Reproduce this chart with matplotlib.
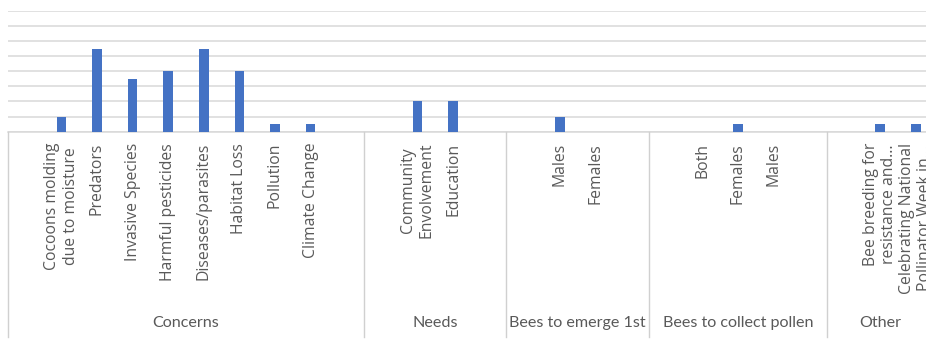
import matplotlib
matplotlib.use("Agg")
import matplotlib.pyplot as plt
import matplotlib.transforms as mtransforms
from matplotlib.lines import Line2D

plt.rcParams['font.family'] = ['Lato', 'DejaVu Sans']

# ---- data ----
groups = ["Concerns", "Needs", "Bees to emerge 1st", "Bees to collect pollen", "Other"]
concerns_labels = ["", "Cocoons molding\ndue to moisture", "Predators", "Invasive Species",
                   "Harmful pesticides", "Diseases/parasites", "Habitat Loss", "Pollution",
                   "Climate Change", ""]
concerns_values = [0, 2, 11, 7, 8, 11, 8, 1, 1, 0]
needs_labels = ["", "Community\nEnvolvement", "Education", ""]
needs_values = [0, 4, 4, 0]
emerge_labels = ["", "Males", "Females", ""]
emerge_values = [0, 2, 0, 0]
pollen_labels = ["", "Both", "Females", "Males", ""]
pollen_values = [0, 0, 1, 0, 0]
other_labels = ["", "Bee breeding for\nresistance and...", "Celebrating National\nPollinator Week in..."]
other_values = [0, 1, 1]

group_labels = [concerns_labels, needs_labels, emerge_labels, pollen_labels, other_labels]
group_values = [concerns_values, needs_values, emerge_values, pollen_values, other_values]

# ---- figure ----
W, H = 926, 340
fig = plt.figure(figsize=(W / 100, H / 100), dpi=100)
base_y = 131.7
top_y = 10.7
left_x = 8
ax = fig.add_axes([left_x / W, (H - base_y) / H, 1 - left_x / W, (base_y - top_y) / H])

labels, values = [], []
bounds = []
for gl, gv in zip(group_labels, group_values):
    start = len(labels)
    labels += gl
    values += gv
    bounds.append((start, len(labels)))
xs = list(range(len(labels)))

bar_color = "#4472C4"
text_color = "#595959"
grid_color = "#d9d9d9"

ax.bar(xs, values, width=0.27, color=bar_color, zorder=3)
ax.set_ylim(0, 16)
ax.set_yticks(range(0, 17, 2))
ax.yaxis.grid(True, color=grid_color, linewidth=1.1, zorder=0)
ax.tick_params(axis='y', length=0, labelleft=False)
slot_px = 35.6
ax.set_xlim(-0.5, -0.5 + (W - left_x) / slot_px)
for s in ['top', 'right', 'left']:
    ax.spines[s].set_visible(False)
ax.spines['bottom'].set_color(grid_color)
ax.spines['bottom'].set_linewidth(1.1)

ax.set_xticks(xs)
ax.set_xticklabels(labels, rotation=90, fontsize=11.3, color=text_color,
                   linespacing=1.2, family=['Open Sans', 'DejaVu Sans'])
for t in ax.get_xticklabels():
    t.set_multialignment('center')
ax.tick_params(axis='x', length=0, pad=8)

# group labels and separators
trans = mtransforms.blended_transform_factory(ax.transData, fig.transFigure)
y_bot = (H - 337) / H
y_base = (H - base_y) / H
y_grp = (H - 323) / H
edges = [-0.5] + [b[1] - 0.5 for b in bounds[:-1]]
for e in edges:
    fig.add_artist(Line2D([e, e], [y_bot, y_base], transform=trans,
                          color="#d0d0d0", linewidth=1.0))
for name, (a, b) in zip(groups, bounds):
    cx = (a + b - 1) / 2
    fig.text(cx, y_grp, name, transform=trans, ha='center', va='center',
             fontsize=11.6, color=text_color)

fig.savefig("out.png", dpi=100)
